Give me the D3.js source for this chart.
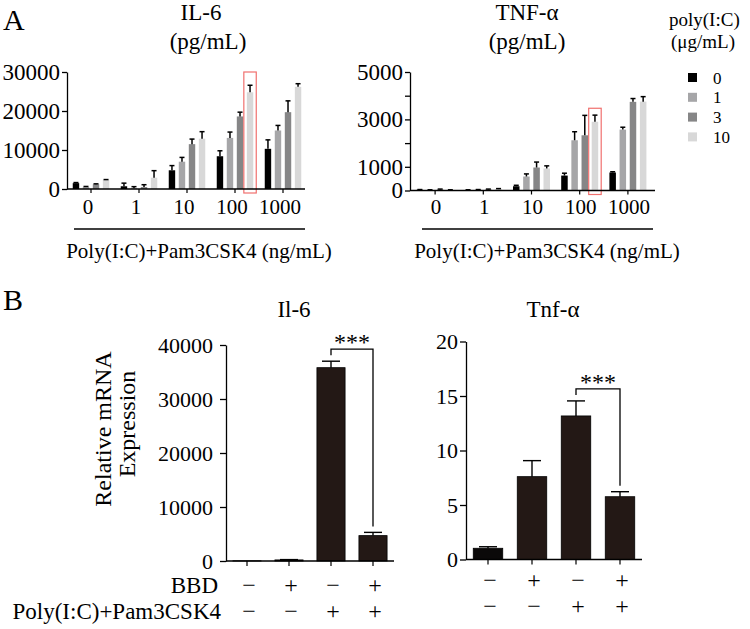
<!DOCTYPE html>
<html><head><meta charset="utf-8">
<script src="https://cdn.jsdelivr.net/npm/d3@7"></script>
<style>
body{margin:0;background:#fff}
text{font-family:"Liberation Serif","Times New Roman",serif;fill:#000}
</style></head><body>
<script>
// ---------- DATA ----------
const groups = ["0", "1", "10", "100", "1000"];          // Poly(I:C)+Pam3CSK4 (ng/mL)
const doses = ["0", "1", "3", "10"];                     // poly(I:C) (μg/mL)
const doseColors = ["#000000", "#a6a6a8", "#868687", "#d8d8d8"];

const il6Mean = [[1500, 500, 1200, 2300], [700, 200, 500, 2900], [4800, 7000, 11500, 12900], [8400, 13100, 18600, 24800], [10300, 15000, 19700, 26200]];
const il6Err  = [[150, 150, 120, 120], [800, 400, 600, 1800], [1200, 1100, 1300, 1800], [1400, 1500, 1100, 1800], [2300, 1300, 2900, 800]];
const il6Ticks = [0, 10000, 20000, 30000];

const tnfMean = [[30, 20, 40, 20], [20, 30, 40, 60], [180, 590, 970, 930], [630, 2120, 2330, 2900], [760, 2570, 3740, 3750]];
const tnfErr  = [[10, 10, 20, 10], [10, 10, 20, 20], [40, 110, 230, 110], [100, 360, 840, 280], [30, 100, 140, 210]];
const tnfTicks = [0, 1000, 2000, 3000, 4000, 5000];
const tnfTickLabels = [0, 1000, 3000, 5000];

const bConds = ["c1", "c2", "c3", "c4"];
const bbdRow = ["−", "+", "−", "+"];
const polyRow = ["−", "−", "+", "+"];
const il6mRNA = [30, 200, 35800, 4700];
const il6mRNAErr = [0, 60, 1200, 600];
const il6mTicks = [0, 10000, 20000, 30000, 40000];
const tnfmRNA = [1.03, 7.6, 13.17, 5.76];
const tnfmRNAErr = [0.14, 1.47, 1.38, 0.46];
const tnfmTicks = [0, 5, 10, 15, 20];

// ---------- DRAW ----------
const svg = d3.select("body").append("svg").attr("width", 750).attr("height", 629);

function txt(g, x, y, s, size, anchor) {
  return g.append("text").attr("x", x).attr("y", y).attr("font-size", size)
    .attr("text-anchor", anchor || "middle").text(s);
}

function styleAxis(sel, fs) {
  sel.selectAll("path,line").attr("stroke", "#000").attr("stroke-width", 1.3);
  sel.selectAll("text").attr("font-size", fs).attr("font-family", "Liberation Serif").attr("fill", "#000");
}

function panelA(o) {
  const g = svg.append("g");
  const x = d3.scaleBand().domain(groups).range(o.xr);
  const gw = x.bandwidth();
  const x1 = d3.scaleBand().domain(doses).range([gw / 2 - o.half, gw / 2 + o.half]).paddingInner(0.36);
  const y = d3.scaleLinear().domain([0, o.max]).range(o.yr);
  groups.forEach((grp, i) => {
    doses.forEach((ds, j) => {
      const m = o.mean[i][j], e = o.err[i][j];
      const bx = x(grp) + x1(ds), bw = x1.bandwidth(), cx = bx + bw / 2;
      g.append("rect").attr("x", bx).attr("y", y(m)).attr("width", bw)
        .attr("height", y(0) - y(m)).attr("fill", doseColors[j]);
      g.append("line").attr("x1", cx).attr("x2", cx).attr("y1", y(m)).attr("y2", y(m + e))
        .attr("stroke", "#000").attr("stroke-width", 1.5);
      g.append("line").attr("x1", cx - 2.5).attr("x2", cx + 2.5).attr("y1", y(m + e)).attr("y2", y(m + e))
        .attr("stroke", "#000").attr("stroke-width", 1.5);
      if (o.hl && o.hl.group === grp && o.hl.dose === ds) {
        g.append("rect").attr("x", bx - 3).attr("y", y(o.hl.top)).attr("width", bw + 6)
          .attr("height", y(0) + 4 - y(o.hl.top)).attr("fill", "none")
          .attr("stroke", "#f0706e").attr("stroke-width", 1.2);
      }
    });
  });
  const ay = d3.axisLeft(y).tickValues(o.ticks).tickSize(5).tickPadding(2).tickSizeOuter(0)
    .tickFormat(d => o.labels.includes(d) ? d3.format("d")(d) : "");
  const ag = g.append("g").attr("transform", `translate(${o.axisX},0)`).call(ay);
  styleAxis(ag, 23);
  g.append("line").attr("x1", o.axisX).attr("x2", o.xEnd).attr("y1", y(0)).attr("y2", y(0))
    .attr("stroke", "#000").attr("stroke-width", 1.3);
  groups.forEach(grp => {
    const cx = x(grp) + gw / 2;
    g.append("line").attr("x1", cx).attr("x2", cx).attr("y1", y(0)).attr("y2", y(0) + 4)
      .attr("stroke", "#000").attr("stroke-width", 1.2);
    txt(g, cx + o.labShift, 214, grp, 21);
  });
  g.append("line").attr("x1", o.line[0]).attr("x2", o.line[1]).attr("y1", 229).attr("y2", 229)
    .attr("stroke", "#000").attr("stroke-width", 1.5);
  txt(g, o.capX, 258, "Poly(I:C)+Pam3CSK4 (ng/mL)", 21);
  txt(g, o.titleX[0], 20, o.title, 23);
  txt(g, o.titleX[1], 49, "(pg/mL)", 23);
}

panelA({ xr: [67, 307], half: 18.25, max: 30000, yr: [189, 72], axisX: 67, xEnd: 305,
  mean: il6Mean, err: il6Err, ticks: il6Ticks, labels: il6Ticks, labShift: -3,
  line: [74, 305], capX: 199, title: "IL-6", titleX: [201, 208],
  hl: { group: "100", dose: "10", top: 30000 } });

panelA({ xr: [411, 652], half: 18.5, max: 5000, yr: [190.5, 72], axisX: 410, xEnd: 655,
  mean: tnfMean, err: tnfErr, ticks: tnfTicks, labels: tnfTickLabels, labShift: 1,
  line: [422, 653], capX: 547, title: "TNF-α", titleX: [527, 527],
  hl: { group: "100", dose: "10", top: 3470 } });

// legend
const lg = svg.append("g");
txt(lg, 669, 26, "poly(I:C)", 19, "start");
txt(lg, 671, 48, "(μg/mL)", 19, "start");
doses.forEach((d, i) => {
  const cy = 77.5 + i * 19.8;
  lg.append("rect").attr("x", 688).attr("y", cy - 4.5).attr("width", 9).attr("height", 9).attr("fill", doseColors[i]);
  txt(lg, 713, cy + 6, d, 17, "start");
});

// panel letters
txt(svg, 3, 30, "A", 30, "start");
txt(svg, 3, 310, "B", 30, "start");

function panelB(o) {
  const g = svg.append("g");
  const x = d3.scaleBand().domain(bConds).range(o.xr).paddingInner(0.33).paddingOuter(0.165);
  const y = d3.scaleLinear().domain([0, o.max]).range(o.yr);
  const bw = x.bandwidth();
  bConds.forEach((c, i) => {
    const m = o.mean[i], e = o.err[i], cx = x(c) + bw / 2;
    g.append("rect").attr("x", x(c)).attr("y", y(m)).attr("width", bw).attr("height", y(0) - y(m))
      .attr("fill", i === 0 ? "#0b0909" : "#231815").attr("stroke", "#000").attr("stroke-width", 0.8);
    if (e > 0) {
      g.append("line").attr("x1", cx).attr("x2", cx).attr("y1", y(m)).attr("y2", y(m + e))
        .attr("stroke", "#000").attr("stroke-width", 1.4);
      g.append("line").attr("x1", cx - 9).attr("x2", cx + 9).attr("y1", y(m + e)).attr("y2", y(m + e))
        .attr("stroke", "#000").attr("stroke-width", 1.4);
    }
    g.append("line").attr("x1", cx).attr("x2", cx).attr("y1", y(0)).attr("y2", y(0) + 5)
      .attr("stroke", "#000").attr("stroke-width", 1.2);
    txt(g, cx + 2, o.rowY[0], bbdRow[i], 24);
    txt(g, cx + 2, o.rowY[1], polyRow[i], 24);
  });
  const ay = d3.axisLeft(y).tickValues(o.ticks).tickSize(6).tickPadding(o.pad).tickSizeOuter(0)
    .tickFormat(d3.format("d"));
  const ag = g.append("g").attr("transform", `translate(${o.xr[0]},0)`).call(ay);
  styleAxis(ag, 22);
  g.append("line").attr("x1", o.xr[0]).attr("x2", o.xr[1]).attr("y1", y(0)).attr("y2", y(0))
    .attr("stroke", "#000").attr("stroke-width", 1.3);
  // significance bracket between bars 3 and 4
  const c3 = x(bConds[2]) + bw / 2, c4 = x(bConds[3]) + bw / 2;
  const top3 = y(o.mean[2] + o.err[2]), top4 = y(o.mean[3] + o.err[3]);
  const by = top3 - 12;
  g.append("path").attr("d", `M${c3},${top3 - 6}V${by}H${c4}V${top4 - 6}`)
    .attr("fill", "none").attr("stroke", "#000").attr("stroke-width", 1.3);
  txt(g, (c3 + c4) / 2, by + 1, "***", 24);
  txt(g, o.titleX, 317, o.title, 23);
}

panelB({ xr: [226, 394], max: 40000, yr: [561, 345], mean: il6mRNA, err: il6mRNAErr,
  ticks: il6mTicks, pad: 7, rowY: [593, 619], title: "Il-6", titleX: 294 });
panelB({ xr: [466, 642], max: 20, yr: [559.5, 341.5], mean: tnfmRNA, err: tnfmRNAErr,
  ticks: tnfmTicks, pad: 2, rowY: [588, 614], title: "Tnf-α", titleX: 553 });

// B row labels and y label
txt(svg, 218, 593, "BBD", 23, "end");
txt(svg, 221, 619, "Poly(I:C)+Pam3CSK4", 23, "end");
svg.append("text").attr("transform", "translate(111,429) rotate(-90)").attr("text-anchor", "middle")
  .attr("font-size", 24).text("Relative mRNA");
svg.append("text").attr("transform", "translate(135,424) rotate(-90)").attr("text-anchor", "middle")
  .attr("font-size", 24).text("Expression");
</script>
</body></html>
